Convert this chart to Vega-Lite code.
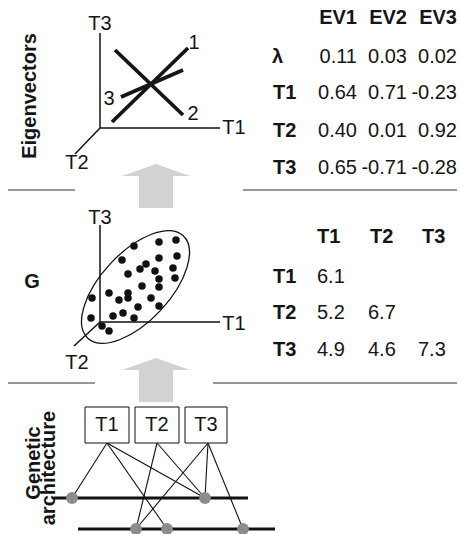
{
  "$schema": "https://vega.github.io/schema/vega-lite/v6.json",
  "width": 460,
  "height": 534,
  "autosize": "none",
  "padding": 0,
  "background": "white",
  "config": {
    "view": {"stroke": null},
    "text": {"font": "Liberation Sans", "fontSize": 20, "color": "#151515", "baseline": "middle"}
  },
  "datasets": {
    "segments": [
      {"kind": "axis", "x": 100, "y": 128, "x2": 100, "y2": 33},
      {"kind": "axis", "x": 100, "y": 128, "x2": 220, "y2": 128},
      {"kind": "axis", "x": 100, "y": 128, "x2": 75, "y2": 154},
      {"kind": "axis", "x": 100, "y": 322, "x2": 100, "y2": 225},
      {"kind": "axis", "x": 100, "y": 322, "x2": 220, "y2": 322},
      {"kind": "axis", "x": 100, "y": 322, "x2": 74, "y2": 346},
      {"kind": "vector", "x": 112, "y": 122, "x2": 188, "y2": 48},
      {"kind": "vector", "x": 115, "y": 50, "x2": 183, "y2": 115},
      {"kind": "vector", "x": 121, "y": 97, "x2": 183, "y2": 70},
      {"kind": "separator", "x": 8, "y": 190, "x2": 75, "y2": 190},
      {"kind": "separator", "x": 243, "y": 190, "x2": 457, "y2": 190},
      {"kind": "separator", "x": 8, "y": 383, "x2": 95, "y2": 383},
      {"kind": "separator", "x": 213, "y": 383, "x2": 457, "y2": 383},
      {"kind": "chromosome", "x": 54, "y": 498, "x2": 248, "y2": 498},
      {"kind": "chromosome", "x": 78, "y": 529, "x2": 275, "y2": 529},
      {"kind": "link", "x": 107, "y": 443, "x2": 72, "y2": 498},
      {"kind": "link", "x": 107, "y": 443, "x2": 167, "y2": 529},
      {"kind": "link", "x": 107, "y": 443, "x2": 205, "y2": 498},
      {"kind": "link", "x": 157, "y": 443, "x2": 136, "y2": 529},
      {"kind": "link", "x": 157, "y": 443, "x2": 205, "y2": 498},
      {"kind": "link", "x": 208, "y": 443, "x2": 136, "y2": 529},
      {"kind": "link", "x": 208, "y": 443, "x2": 205, "y2": 498},
      {"kind": "link", "x": 208, "y": 443, "x2": 243, "y2": 529}
    ],
    "arrows": [
      {"x": 156, "y": 186},
      {"x": 156, "y": 380}
    ],
    "ellipse": [
      {"x": 135.5, "y": 287}
    ],
    "dots": [
      {"x": 176, "y": 240}, {"x": 159, "y": 242}, {"x": 134, "y": 246}, {"x": 177, "y": 256},
      {"x": 159, "y": 258}, {"x": 122, "y": 260}, {"x": 146, "y": 264}, {"x": 140, "y": 269},
      {"x": 155, "y": 271}, {"x": 173, "y": 268}, {"x": 128, "y": 274}, {"x": 159, "y": 279},
      {"x": 175, "y": 278}, {"x": 159, "y": 287}, {"x": 142, "y": 286}, {"x": 109, "y": 293},
      {"x": 128, "y": 293}, {"x": 92, "y": 298}, {"x": 119, "y": 300}, {"x": 128, "y": 298},
      {"x": 151, "y": 298}, {"x": 138, "y": 307}, {"x": 159, "y": 306}, {"x": 123, "y": 313},
      {"x": 113, "y": 316}, {"x": 91, "y": 318}, {"x": 134, "y": 318}, {"x": 102, "y": 326},
      {"x": 109, "y": 331}
    ],
    "loci": [
      {"x": 72, "y": 498}, {"x": 205, "y": 498},
      {"x": 136, "y": 529}, {"x": 167, "y": 529}, {"x": 243, "y": 529}
    ],
    "boxes": [
      {"trait": "T1", "x": 85, "x2": 129, "y": 407, "y2": 443},
      {"trait": "T2", "x": 135, "x2": 179, "y": 407, "y2": 443},
      {"trait": "T3", "x": 185, "x2": 227, "y": 407, "y2": 443}
    ],
    "labels": [
      {"kind": "rot", "label": "Eigenvectors", "x": 30, "y": 96},
      {"kind": "rot", "label": "Genetic", "x": 34, "y": 463},
      {"kind": "rot", "label": "architecture", "x": 49, "y": 468},
      {"kind": "boldcenter", "label": "G", "x": 32, "y": 282},
      {"kind": "boldright", "label": "EV1", "x": 357, "y": 18},
      {"kind": "boldright", "label": "EV2", "x": 407, "y": 18},
      {"kind": "boldright", "label": "EV3", "x": 457, "y": 18},
      {"kind": "boldleft", "label": "λ", "x": 272, "y": 57},
      {"kind": "boldleft", "label": "T1", "x": 273, "y": 93},
      {"kind": "boldleft", "label": "T2", "x": 273, "y": 131},
      {"kind": "boldleft", "label": "T3", "x": 273, "y": 168},
      {"kind": "boldleft", "label": "T1", "x": 317, "y": 237},
      {"kind": "boldleft", "label": "T2", "x": 370, "y": 237},
      {"kind": "boldleft", "label": "T3", "x": 422, "y": 237},
      {"kind": "boldleft", "label": "T1", "x": 273, "y": 277},
      {"kind": "boldleft", "label": "T2", "x": 273, "y": 313},
      {"kind": "boldleft", "label": "T3", "x": 273, "y": 350},
      {"kind": "right", "label": "0.11", "x": 357, "y": 57},
      {"kind": "right", "label": "0.03", "x": 407, "y": 57},
      {"kind": "right", "label": "0.02", "x": 457, "y": 57},
      {"kind": "right", "label": "0.64", "x": 357, "y": 93},
      {"kind": "right", "label": "0.71", "x": 407, "y": 93},
      {"kind": "right", "label": "-0.23", "x": 457, "y": 93},
      {"kind": "right", "label": "0.40", "x": 357, "y": 131},
      {"kind": "right", "label": "0.01", "x": 407, "y": 131},
      {"kind": "right", "label": "0.92", "x": 457, "y": 131},
      {"kind": "right", "label": "0.65", "x": 357, "y": 168},
      {"kind": "right", "label": "-0.71", "x": 407, "y": 168},
      {"kind": "right", "label": "-0.28", "x": 457, "y": 168},
      {"kind": "left", "label": "6.1", "x": 317, "y": 277},
      {"kind": "left", "label": "5.2", "x": 317, "y": 313},
      {"kind": "left", "label": "6.7", "x": 368, "y": 313},
      {"kind": "left", "label": "4.9", "x": 317, "y": 350},
      {"kind": "left", "label": "4.6", "x": 368, "y": 350},
      {"kind": "left", "label": "7.3", "x": 418, "y": 350},
      {"kind": "center", "label": "T3", "x": 100, "y": 24},
      {"kind": "center", "label": "T1", "x": 234, "y": 128},
      {"kind": "center", "label": "T2", "x": 77, "y": 163},
      {"kind": "center", "label": "1", "x": 194, "y": 43},
      {"kind": "center", "label": "2", "x": 193, "y": 114},
      {"kind": "center", "label": "3", "x": 109, "y": 99},
      {"kind": "center", "label": "T3", "x": 100, "y": 218},
      {"kind": "center", "label": "T1", "x": 234, "y": 324},
      {"kind": "center", "label": "T2", "x": 77, "y": 363},
      {"kind": "center", "label": "T1", "x": 107, "y": 425},
      {"kind": "center", "label": "T2", "x": 157, "y": 425},
      {"kind": "center", "label": "T3", "x": 206, "y": 425}
    ]
  },
  "encoding": {
    "x": {"field": "x", "type": "quantitative", "scale": {"domain": [0, 460], "nice": false, "zero": false}, "axis": null},
    "y": {"field": "y", "type": "quantitative", "scale": {"domain": [0, 534], "nice": false, "zero": false, "reverse": true}, "axis": null}
  },
  "layer": [
    {
      "data": {"name": "segments"},
      "transform": [{"filter": "datum.kind === 'separator'"}],
      "mark": {"type": "rule", "color": "#333333", "strokeWidth": 1.1},
      "encoding": {"x2": {"field": "x2"}, "y2": {"field": "y2"}}
    },
    {
      "data": {"name": "arrows"},
      "mark": {"type": "point", "shape": "M0,-0.647L1,-0.294L0.5,-0.294L0.5,0.647L-0.5,0.647L-0.5,-0.294L-1,-0.294Z", "size": 4624, "filled": true, "color": "#d2d2d2", "opacity": 1, "strokeWidth": 0}
    },
    {
      "data": {"name": "segments"},
      "transform": [{"filter": "datum.kind === 'axis'"}],
      "mark": {"type": "rule", "color": "#111111", "strokeWidth": 1.5},
      "encoding": {"x2": {"field": "x2"}, "y2": {"field": "y2"}}
    },
    {
      "data": {"name": "segments"},
      "transform": [{"filter": "datum.kind === 'vector'"}],
      "mark": {"type": "rule", "color": "#151515", "strokeWidth": 3.8},
      "encoding": {"x2": {"field": "x2"}, "y2": {"field": "y2"}}
    },
    {
      "data": {"name": "ellipse"},
      "mark": {"type": "point", "shape": "M-1,0A1,0.49,0,1,1,1,0A1,0.49,0,1,1,-1,0Z", "size": 19600, "angle": -47, "filled": false, "color": "#111111", "opacity": 1, "strokeWidth": 1.3}
    },
    {
      "data": {"name": "dots"},
      "mark": {"type": "circle", "size": 56, "color": "#111111", "opacity": 1}
    },
    {
      "data": {"name": "segments"},
      "transform": [{"filter": "datum.kind === 'link'"}],
      "mark": {"type": "rule", "color": "#111111", "strokeWidth": 1.1},
      "encoding": {"x2": {"field": "x2"}, "y2": {"field": "y2"}}
    },
    {
      "data": {"name": "segments"},
      "transform": [{"filter": "datum.kind === 'chromosome'"}],
      "mark": {"type": "rule", "color": "#111111", "strokeWidth": 3.2},
      "encoding": {"x2": {"field": "x2"}, "y2": {"field": "y2"}}
    },
    {
      "data": {"name": "loci"},
      "mark": {"type": "circle", "size": 140, "color": "#8c8c8c", "opacity": 1}
    },
    {
      "data": {"name": "boxes"},
      "mark": {"type": "rect", "fill": "white", "stroke": "#111111", "strokeWidth": 1},
      "encoding": {"x2": {"field": "x2"}, "y2": {"field": "y2"}}
    },
    {
      "data": {"name": "labels"},
      "transform": [{"filter": "datum.kind === 'rot'"}],
      "mark": {"type": "text", "angle": 270, "align": "center", "fontWeight": "bold"},
      "encoding": {"text": {"field": "label"}}
    },
    {
      "data": {"name": "labels"},
      "transform": [{"filter": "datum.kind === 'boldcenter'"}],
      "mark": {"type": "text", "align": "center", "fontWeight": "bold"},
      "encoding": {"text": {"field": "label"}}
    },
    {
      "data": {"name": "labels"},
      "transform": [{"filter": "datum.kind === 'boldright'"}],
      "mark": {"type": "text", "align": "right", "fontWeight": "bold"},
      "encoding": {"text": {"field": "label"}}
    },
    {
      "data": {"name": "labels"},
      "transform": [{"filter": "datum.kind === 'boldleft'"}],
      "mark": {"type": "text", "align": "left", "fontWeight": "bold"},
      "encoding": {"text": {"field": "label"}}
    },
    {
      "data": {"name": "labels"},
      "transform": [{"filter": "datum.kind === 'right'"}],
      "mark": {"type": "text", "align": "right"},
      "encoding": {"text": {"field": "label"}}
    },
    {
      "data": {"name": "labels"},
      "transform": [{"filter": "datum.kind === 'left'"}],
      "mark": {"type": "text", "align": "left"},
      "encoding": {"text": {"field": "label"}}
    },
    {
      "data": {"name": "labels"},
      "transform": [{"filter": "datum.kind === 'center'"}],
      "mark": {"type": "text", "align": "center"},
      "encoding": {"text": {"field": "label"}}
    }
  ]
}
